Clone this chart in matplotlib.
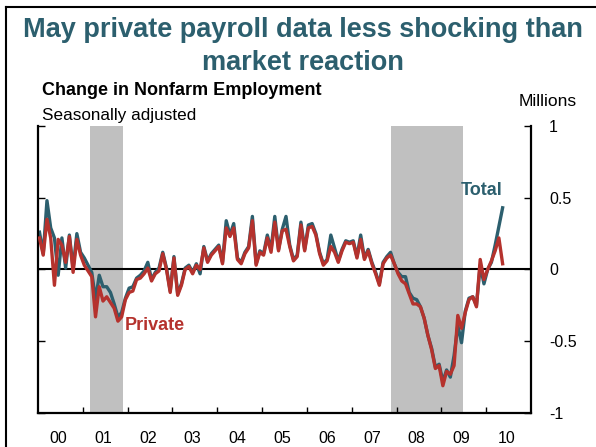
import numpy as np
import matplotlib.pyplot as plt
from matplotlib.lines import Line2D

plt.rcParams['font.family'] = ['Liberation Sans', 'DejaVu Sans']

# monthly change in nonfarm employment, millions, Jan 2000 - May 2010
total = [0.26, 0.11, 0.48, 0.29, 0.22, -0.04, 0.22, 0.01, 0.24, 0.01, 0.25, 0.12,
         0.08, 0.03, -0.02, -0.21, -0.04, -0.12, -0.12, -0.16, -0.24, -0.33, -0.30, -0.20,
         -0.13, -0.12, -0.06, -0.04, -0.01, 0.05, -0.07, -0.02, 0.01, 0.12, 0.01, -0.15,
         0.09, -0.17, -0.10, 0.01, 0.03, -0.02, 0.04, -0.03, 0.16, 0.06, 0.11, 0.14,
         0.17, 0.05, 0.34, 0.24, 0.32, 0.08, 0.05, 0.12, 0.16, 0.37, 0.04, 0.13,
         0.11, 0.24, 0.14, 0.37, 0.14, 0.28, 0.37, 0.17, 0.07, 0.10, 0.33, 0.14,
         0.31, 0.32, 0.25, 0.12, 0.04, 0.07, 0.24, 0.15, 0.06, 0.14, 0.20, 0.19,
         0.20, 0.09, 0.24, 0.08, 0.14, 0.05, -0.02, -0.10, 0.05, 0.09, 0.12, 0.04,
         -0.02, -0.05, -0.05, -0.16, -0.20, -0.21, -0.26, -0.34, -0.46, -0.55, -0.68, -0.66,
         -0.78, -0.70, -0.75, -0.60, -0.39, -0.51, -0.29, -0.20, -0.19, -0.25, 0.03, -0.10,
         0.00, 0.05, 0.17, 0.30, 0.43]
private = [0.22, 0.10, 0.35, 0.22, -0.11, 0.21, 0.17, 0.05, 0.23, -0.02, 0.21, 0.10,
           0.03, -0.01, -0.05, -0.33, -0.12, -0.22, -0.19, -0.23, -0.27, -0.36, -0.33, -0.21,
           -0.16, -0.15, -0.07, -0.06, -0.03, 0.01, -0.08, -0.03, -0.01, 0.11, 0.00, -0.16,
           0.08, -0.18, -0.11, 0.00, 0.02, -0.03, 0.03, 0.00, 0.15, 0.05, 0.10, 0.13,
           0.16, 0.04, 0.29, 0.23, 0.29, 0.07, 0.04, 0.11, 0.15, 0.34, 0.03, 0.12,
           0.10, 0.22, 0.12, 0.33, 0.13, 0.27, 0.28, 0.16, 0.06, 0.09, 0.31, 0.13,
           0.29, 0.30, 0.24, 0.11, 0.03, 0.06, 0.16, 0.12, 0.05, 0.13, 0.19, 0.18,
           0.19, 0.08, 0.21, 0.07, 0.13, 0.04, -0.03, -0.11, 0.04, 0.08, 0.10, 0.04,
           -0.03, -0.08, -0.10, -0.17, -0.24, -0.24, -0.26, -0.34, -0.46, -0.56, -0.69, -0.67,
           -0.81, -0.71, -0.73, -0.67, -0.32, -0.41, -0.30, -0.21, -0.19, -0.26, 0.07, -0.07,
           0.00, 0.06, 0.13, 0.22, 0.04]
year_labels = ['00', '01', '02', '03', '04', '05', '06', '07', '08', '09', '10']
recessions = [(2001.15, 2001.9), (2007.88, 2009.48)]
yticks = [-1, -0.5, 0, 0.5, 1]
ytick_labels = ['-1', '-0.5', '0', '0.5', '1']

teal = '#2c5f6e'
red = '#b5322d'

dates = 2000 + (np.arange(len(total)) + 0.4) / 12

fig = plt.figure(figsize=(5.96, 4.47), dpi=100)
ax = fig.add_axes([38 / 596, 1 - 413 / 447, 493 / 596, 287 / 447])

for start, end in recessions:
    ax.axvspan(start, end, color='#c0c0c0', lw=0, zorder=0)

ax.axhline(0, color='black', lw=1.5, zorder=1)
ax.plot(dates, total, color=teal, lw=2.4, zorder=2, solid_joinstyle='round')
ax.plot(dates, private, color=red, lw=2.4, zorder=3, solid_joinstyle='round')

ax.set_xlim(2000, 2011)
ax.set_ylim(-1, 1)

ax.spines['top'].set_visible(False)
for s in ['left', 'bottom', 'right']:
    ax.spines[s].set_linewidth(1.6)

ax.set_xticks(np.arange(2001, 2011))
ax.set_xticklabels([])
ax.set_xticks(np.arange(2000, 2011) + 0.45, minor=True)
ax.set_xticklabels(year_labels, minor=True)
ax.tick_params(axis='x', which='major', direction='in', length=4, width=1)
ax.tick_params(axis='x', which='minor', length=0, pad=13, labelsize=11.5)

ax.set_yticks(yticks)
ax.set_yticklabels(ytick_labels)
ax.yaxis.tick_right()
ax.tick_params(axis='y', which='both', direction='in', length=5, width=1,
               left=True, right=True, labelleft=False, labelright=True,
               pad=13, labelsize=11.5)

ax.text(2009.89, 0.55, 'Total', color=teal, fontsize=13, fontweight='bold',
        ha='center', va='center')
ax.text(2002.61, -0.39, 'Private', color=red, fontsize=13, fontweight='bold',
        ha='center', va='center')

fig.text(0.508, 1 - 37 / 447, 'May private payroll data less shocking than',
         ha='center', va='baseline', fontsize=19.5, fontweight='bold', color=teal)
fig.text(0.508, 1 - 70 / 447, 'market reaction',
         ha='center', va='baseline', fontsize=19.5, fontweight='bold', color=teal)
fig.text(42 / 596, 1 - 95 / 447, 'Change in Nonfarm Employment',
         ha='left', va='baseline', fontsize=13, fontweight='bold')
fig.text(42 / 596, 1 - 120 / 447, 'Seasonally adjusted',
         ha='left', va='baseline', fontsize=12.3)
fig.text(577 / 596, 1 - 101 / 447, 'Millions',
         ha='right', va='center', fontsize=12.5)

# frame round the slide
fig.add_artist(Line2D([6 / 596, 6 / 596], [0, 1 - 7 / 447], color='black', lw=1.5))
fig.add_artist(Line2D([6 / 596, 1], [1 - 7 / 447, 1 - 7 / 447], color='black', lw=1.5))

fig.savefig('out.png', dpi=100)
